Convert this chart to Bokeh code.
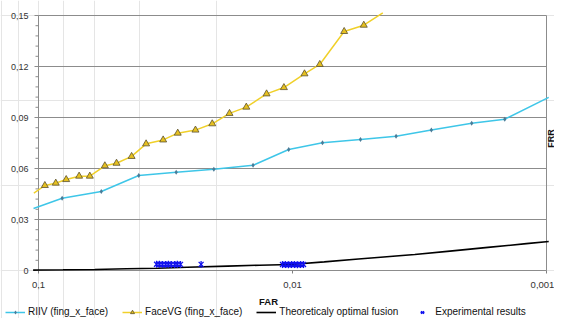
import math
from bokeh.plotting import figure
from bokeh.models import Range1d, Legend, LegendItem, Label, LogScale
from bokeh.core.properties import value
from bokeh.embed import file_html
from bokeh.resources import INLINE

# ---------------- data ----------------
riiv_far = [0.1046, 0.0807, 0.0566, 0.0403, 0.0287, 0.0204, 0.0143, 0.01035,
            0.00762, 0.00540, 0.00391, 0.00284, 0.00197, 0.00146, 0.00098]
riiv_frr = [0.0365, 0.0425, 0.0465, 0.0559, 0.0578, 0.0596, 0.0619, 0.0712,
            0.0751, 0.0771, 0.0790, 0.0827, 0.0866, 0.0890, 0.1018]

facevg_far = [0.1043, 0.0944, 0.0855, 0.0778, 0.0692, 0.0628, 0.0548, 0.0493,
              0.0430, 0.0377, 0.0323, 0.0283, 0.0241, 0.0207, 0.0177, 0.0152,
              0.01265, 0.01081, 0.00897, 0.00781, 0.00626, 0.00524, 0.00441]
facevg_frr = [0.0455, 0.0500, 0.0514, 0.0535, 0.0555, 0.0555, 0.0616, 0.0631,
              0.0671, 0.0745, 0.0768, 0.0808, 0.0826, 0.0863, 0.0924, 0.0961,
              0.1039, 0.1076, 0.1157, 0.1212, 0.1406, 0.1443, 0.1516]

optimal_far = [0.105, 0.1, 0.08, 0.06, 0.045, 0.034, 0.026, 0.018, 0.0135, 0.0102,
               0.0075, 0.0055, 0.0045, 0.0033, 0.0024, 0.0017, 0.0012, 0.00098]
optimal_frr = [0.0002, 0.0003, 0.0004, 0.0006, 0.0010, 0.0013, 0.0019, 0.0026, 0.0031,
               0.0035, 0.0051, 0.0068, 0.0078, 0.0094, 0.0114, 0.0136, 0.0158, 0.0171]

exp_far = [0.0343, 0.0334, 0.0325, 0.0316, 0.0308, 0.0300, 0.0291, 0.0284, 0.0276,
           0.0229, 0.01095, 0.01066, 0.01037, 0.01009, 0.00982, 0.00956, 0.00930, 0.00905]
exp_frr = [0.0037, 0.0037, 0.0036, 0.0036, 0.0037, 0.0036, 0.0036, 0.0037, 0.0036,
           0.0036, 0.0035, 0.0035, 0.0034, 0.0035, 0.0035, 0.0034, 0.0035, 0.0035]

y_ticks = [0, 0.03, 0.06, 0.09, 0.12, 0.15]
y_tick_labels = ["0", "0,03", "0,06", "0,09", "0,12", "0,15"]
y_minor_step = 0.006
x_ticks = [0.1, 0.01, 0.001]
x_tick_labels = ["0,1", "0,01", "0,001"]
series_names = ["RIIV (fing_x_face)", "FaceVG (fing_x_face)",
                "Theoreticaly optimal fusion", "Experimental results"]

# ---------------- layout geometry (pixels) ----------------
W, H = 554, 318
PLOT_L, PLOT_R, PLOT_T, PLOT_B = 38, 546, 15, 270
PX_DEC = (PLOT_R - PLOT_L) / math.log10(x_ticks[0] / x_ticks[-1])   # px per decade
PX_UNIT = (PLOT_B - PLOT_T) / (y_ticks[-1] - y_ticks[0])           # px per FRR unit


def fx(px):   # canvas x pixel -> FAR value
    return x_ticks[0] * 10 ** (-(px - PLOT_L) / PX_DEC)


def fy(py):   # canvas y pixel (from top) -> FRR value
    return y_ticks[0] + (PLOT_B - py) / PX_UNIT


# ---------------- styles ----------------
FONT = "Liberation Sans"
GRID = "#8c8c8c"
riiv_line = dict(line_color="#3ec6e8", line_width=1.5)
riiv_mark = dict(marker="diamond", size=5, fill_color="#4a7c98", line_color=None)
face_line = dict(line_color="#f0d02a", line_width=1.5)
face_mark = dict(marker="triangle", size=7, fill_color="#e6c020",
                 line_color="#5a5030", line_width=0.8)
opt_line = dict(line_color="black", line_width=1.6)
exp_x = dict(marker="x", size=7, line_color="#1010ee", line_width=1.3)
exp_bar = dict(marker="dash", angle=math.pi / 2, size=7, line_color="#1010ee", line_width=1.3)

p = figure(width=W, height=H,
           x_range=Range1d(fx(0), fx(W)), y_range=Range1d(fy(H), fy(0)),
           x_axis_location=None, y_axis_location=None,
           output_backend="svg", toolbar_location=None, min_border=0)
p.x_scale = LogScale()
p.background_fill_color = "white"
p.border_fill_color = "white"
p.outline_line_color = None

# ---- grid lines, plot-area border, axis lines ----
n = len(y_ticks)
p.segment(x0=[x_ticks[0]] * n, x1=[x_ticks[-1]] * n, y0=y_ticks, y1=y_ticks,
          line_color=GRID, line_width=1)
p.segment(x0=[x_ticks[-1], x_ticks[0]], x1=[x_ticks[-1], x_ticks[0]],
          y0=[y_ticks[0]] * 2, y1=[y_ticks[-1]] * 2, line_color=GRID, line_width=1)

# y ticks (outside, to the left)
p.segment(x0=[fx(PLOT_L - 4)] * n, x1=[x_ticks[0]] * n, y0=y_ticks, y1=y_ticks,
          line_color=GRID, line_width=1)
minor = [i * y_minor_step for i in range(int(round(y_ticks[-1] / y_minor_step)) + 1)]
p.segment(x0=[fx(PLOT_L - 3)] * len(minor), x1=[x_ticks[0]] * len(minor),
          y0=minor, y1=minor, line_color=GRID, line_width=1)
p.text(x=[fx(PLOT_L - 10)] * n, y=y_ticks, text=y_tick_labels,
       text_align="right", text_baseline="middle", text_font=value(FONT),
       text_font_size="9px", text_color="#333333")

# x ticks (outside, below)
m = len(x_ticks)
p.segment(x0=x_ticks, x1=x_ticks, y0=[y_ticks[0]] * m, y1=[fy(PLOT_B + 3)] * m,
          line_color="#808080", line_width=1)
p.text(x=x_ticks, y=[fy(PLOT_B + 14)] * m, text=x_tick_labels,
       x_offset=[0, 0, -4], text_align="center", text_baseline="middle",
       text_font=value(FONT), text_font_size="9.5px", text_color="#333333")

# ---- series ----
r_riiv = p.line(riiv_far, riiv_frr, **riiv_line)
r_riiv_m = p.scatter(riiv_far[1:-1], riiv_frr[1:-1], **riiv_mark)
r_face = p.line(facevg_far, facevg_frr, **face_line)
r_face_m = p.scatter(facevg_far[1:-1], facevg_frr[1:-1], **face_mark)
r_opt = p.line(optimal_far, optimal_frr, **opt_line)
r_exp1 = p.scatter(exp_far, exp_frr, **exp_x)
r_exp2 = p.scatter(exp_far, exp_frr, **exp_bar)

# ---- axis titles ----
p.add_layout(Label(x=fx(268), y=fy(301), text="FAR", text_align="center",
                   text_baseline="middle", text_font=FONT, text_font_style="bold",
                   text_font_size="9.5px", text_color="#111111"))
p.add_layout(Label(x=fx(550), y=fy(138), text="FRR", text_align="center",
                   text_baseline="middle", angle=math.pi / 2, text_font=FONT,
                   text_font_style="bold", text_font_size="9px", text_color="#111111"))

# ---- legend ----
legend = Legend(items=[
    LegendItem(label=series_names[0], renderers=[r_riiv, r_riiv_m]),
    LegendItem(label=series_names[1], renderers=[r_face, r_face_m]),
    LegendItem(label=series_names[2], renderers=[r_opt]),
    LegendItem(label=series_names[3], renderers=[r_exp1, r_exp2]),
], orientation="horizontal", location=(5, 1),
    label_text_font=FONT, label_text_font_size="10px", label_text_color="#111111",
    glyph_width=20, glyph_height=10, label_height=10, label_standoff=3,
    spacing=14, padding=0, margin=0,
    border_line_color=None, background_fill_alpha=0)
p.add_layout(legend)

open("out.html", "w").write(file_html(p, INLINE))
